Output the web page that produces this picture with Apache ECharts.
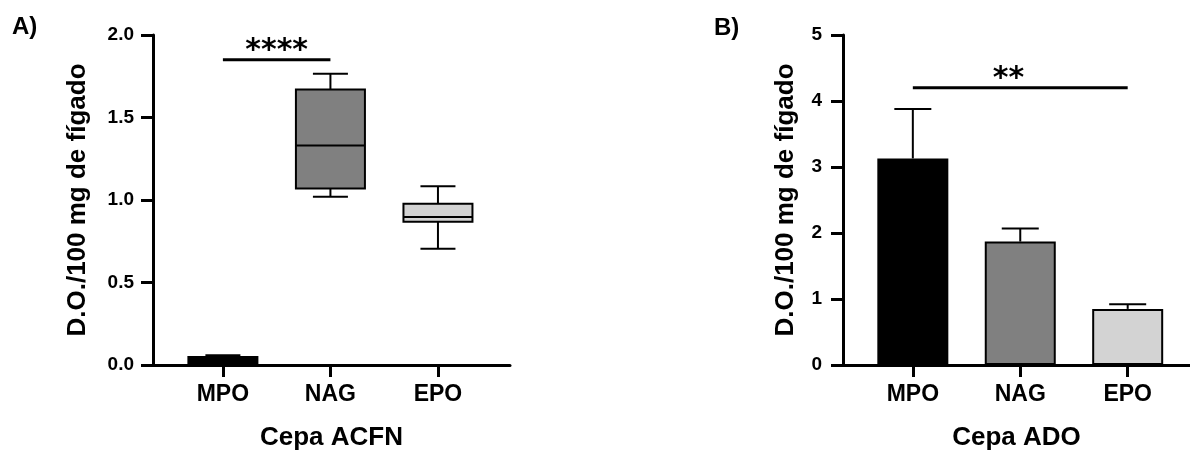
<!DOCTYPE html>
<html>
<head>
<meta charset="utf-8">
<script src="https://cdn.jsdelivr.net/npm/echarts@6/dist/echarts.min.js"></script>
<style>
  html, body { margin: 0; padding: 0; background: #fff; }
  #chart { width: 1190px; height: 453px; }
</style>
</head>
<body>
<div id="chart"></div>
<script>
// ---------- data ----------
const categories = ['MPO', 'NAG', 'EPO'];
const fills = ['#000000', '#808080', '#d3d3d3'];

// Panel A: box plots (Cepa ACFN)
const boxMin    = [0.002, 1.02, 0.705];
const boxQ1     = [0.006, 1.07, 0.868];
const boxMedian = [0.03, 1.33, 0.897];
const boxQ3     = [0.049, 1.67, 0.978];
const boxMax    = [0.059, 1.765, 1.083];

// Panel B: bars mean + SEM (Cepa ADO)
const barMean = [3.13, 1.87, 0.85];
const barErr  = [0.75, 0.20, 0.07];

// significance brackets: [from, to, y, labelX]
const sigA = [[0, 1, 1.85, 0.5]];
const sigALabels = ['****'];
const sigB = [[0, 2, 4.2, 0.89]];
const sigBLabels = ['**'];

const yTicksA = ['0.0', '0.5', '1.0', '1.5', '2.0'];
const yTicksB = ['0', '1', '2', '3', '4', '5'];

const titleA = 'Cepa ACFN';
const titleB = 'Cepa ADO';
const yTitle = 'D.O./100 mg de fígado';

// ---------- styling ----------
const FONT = 'Liberation Sans, Arial, sans-serif';
const STAR_FONT = 'bold 30px "DejaVu Sans", sans-serif';
const BOX_W = 69, BOX_CAP = 35, BAR_W = 71, ERR_CAP = 37;

function xAxisCfg(gridIndex, max, name) {
  return {
    gridIndex, type: 'value', min: -0.65, max: max,
    name: name, nameLocation: 'middle', nameGap: 60,
    nameTextStyle: { fontFamily: FONT, fontSize: 26, fontWeight: 'bold', color: '#000' },
    axisLine: { show: true, onZero: false, lineStyle: { color: '#000', width: 3 } },
    axisTick: { show: true, customValues: [0, 1, 2], length: 12, lineStyle: { color: '#000', width: 3 } },
    axisLabel: {
      customValues: [0, 1, 2], margin: 18,
      formatter: v => categories[Math.round(v)] || '',
      fontFamily: FONT, fontSize: 23, fontWeight: 'bold', color: '#000'
    },
    splitLine: { show: false }
  };
}
function yAxisCfg(gridIndex, max, interval, ticks, nameGap, margin) {
  return {
    gridIndex, type: 'value', min: 0, max: max, interval: interval,
    name: yTitle, nameLocation: 'middle', nameGap: nameGap, nameRotate: 90,
    nameTextStyle: { fontFamily: FONT, fontSize: 26, fontWeight: 'bold', color: '#000' },
    axisLine: { show: true, onZero: false, lineStyle: { color: '#000', width: 3 } },
    axisTick: { show: true, length: 12, lineStyle: { color: '#000', width: 3 } },
    axisLabel: {
      margin: margin,
      formatter: v => ticks[Math.round(v / interval)],
      fontFamily: FONT, fontSize: 19, fontWeight: 'bold', color: '#000'
    },
    splitLine: { show: false }
  };
}

function sigRender(labels) {
  return function (params, api) {
    const x1 = api.value(0), x2 = api.value(1), y = api.value(2), lx = api.value(3);
    const p1 = api.coord([x1, y]);
    const p2 = api.coord([x2, y]);
    const pl = api.coord([lx, y]);
    return {
      type: 'group',
      children: [
        { type: 'line', shape: { x1: p1[0], y1: p1[1], x2: p2[0], y2: p2[1] },
          style: { stroke: '#000', lineWidth: 3 } },
        { type: 'text', style: {
            text: labels[params.dataIndex], x: pl[0], y: p1[1] - 9,
            align: 'center', verticalAlign: 'middle',
            font: STAR_FONT, fill: '#000' } }
      ]
    };
  };
}

const option = {
  backgroundColor: '#fff',
  animation: false,
  title: [
    { text: 'A)', left: 12, top: 15, padding: 0,
      textStyle: { fontFamily: FONT, fontSize: 24, fontWeight: 'bold', color: '#000' } },
    { text: 'B)', left: 714, top: 16, padding: 0,
      textStyle: { fontFamily: FONT, fontSize: 24, fontWeight: 'bold', color: '#000' } }
  ],
  grid: [
    { left: 153, top: 35, width: 357, height: 330, outerBoundsMode: 'none' },
    { left: 843, top: 35, width: 347, height: 330, outerBoundsMode: 'none' }
  ],
  xAxis: [ xAxisCfg(0, 2.67, titleA), xAxisCfg(1, 2.58, titleB) ],
  yAxis: [ yAxisCfg(0, 2, 0.5, yTicksA, 62, 19), yAxisCfg(1, 5, 1, yTicksB, 44, 21) ],
  series: [
    {
      type: 'custom', xAxisIndex: 0, yAxisIndex: 0, clip: false,
      encode: { x: 0, y: [1, 2, 3, 4, 5] },
      data: categories.map((c, i) => [i, boxMin[i], boxQ1[i], boxMedian[i], boxQ3[i], boxMax[i]]),
      renderItem: function (params, api) {
        const i = params.dataIndex;
        const x = api.value(0);
        const pMin = api.coord([x, api.value(1)]);
        const pQ1 = api.coord([x, api.value(2)]);
        const pMed = api.coord([x, api.value(3)]);
        const pQ3 = api.coord([x, api.value(4)]);
        const pMax = api.coord([x, api.value(5)]);
        const cx = pMed[0];
        const st = { stroke: '#000', lineWidth: 2 };
        return {
          type: 'group',
          children: [
            { type: 'line', shape: { x1: cx, y1: pQ3[1], x2: cx, y2: pMax[1] }, style: st },
            { type: 'line', shape: { x1: cx, y1: pQ1[1], x2: cx, y2: pMin[1] }, style: st },
            { type: 'line', shape: { x1: cx - BOX_CAP / 2, y1: pMax[1], x2: cx + BOX_CAP / 2, y2: pMax[1] }, style: st },
            { type: 'line', shape: { x1: cx - BOX_CAP / 2, y1: pMin[1], x2: cx + BOX_CAP / 2, y2: pMin[1] }, style: st },
            { type: 'rect', shape: { x: cx - BOX_W / 2, y: pQ3[1], width: BOX_W, height: pQ1[1] - pQ3[1] },
              style: { fill: fills[i], stroke: '#000', lineWidth: 2 } },
            { type: 'line', shape: { x1: cx - BOX_W / 2, y1: pMed[1], x2: cx + BOX_W / 2, y2: pMed[1] }, style: st }
          ]
        };
      }
    },
    {
      type: 'custom', xAxisIndex: 0, yAxisIndex: 0, clip: false,
      encode: { x: [0, 1], y: 2 },
      data: sigA,
      renderItem: sigRender(sigALabels)
    },
    {
      type: 'bar', xAxisIndex: 1, yAxisIndex: 1, barWidth: BAR_W,
      data: categories.map((c, i) => ({ value: [i, barMean[i]], itemStyle: { color: fills[i] } })),
      itemStyle: { borderColor: '#000', borderWidth: 2 },
      z: 2
    },
    {
      type: 'custom', xAxisIndex: 1, yAxisIndex: 1, clip: false, z: 3,
      encode: { x: 0, y: [1, 2] },
      data: categories.map((c, i) => [i, barMean[i], barMean[i] + barErr[i]]),
      renderItem: function (params, api) {
        const x = api.value(0);
        const pB = api.coord([x, api.value(1)]);
        const pT = api.coord([x, api.value(2)]);
        const st = { stroke: '#000', lineWidth: 2 };
        return {
          type: 'group',
          children: [
            { type: 'line', shape: { x1: pB[0], y1: pB[1], x2: pT[0], y2: pT[1] }, style: st },
            { type: 'line', shape: { x1: pT[0] - ERR_CAP / 2, y1: pT[1], x2: pT[0] + ERR_CAP / 2, y2: pT[1] }, style: st }
          ]
        };
      }
    },
    {
      type: 'custom', xAxisIndex: 1, yAxisIndex: 1, clip: false,
      encode: { x: [0, 1], y: 2 },
      data: sigB,
      renderItem: sigRender(sigBLabels)
    }
  ]
};

const chart = echarts.init(document.getElementById('chart'), null, { renderer: 'canvas' });
chart.setOption(option);
</script>
</body>
</html>
